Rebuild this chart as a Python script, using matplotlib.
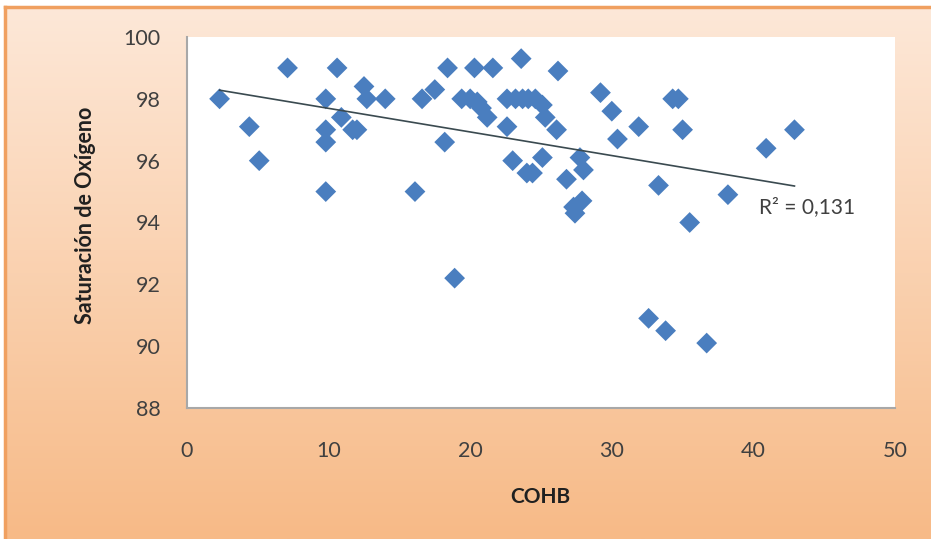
import numpy as np
import matplotlib
matplotlib.use("Agg")
import matplotlib.pyplot as plt

plt.rcParams['font.family'] = ['Lato', 'DejaVu Sans']

# Data
cohb = [2.3, 4.4, 5.1, 7.1, 9.8, 9.8, 9.8, 9.8, 10.6, 10.9, 11.7, 12.0, 12.5, 12.7,
        14.0, 16.1, 16.6, 17.5, 18.2, 18.4, 18.9, 19.4, 20.0, 20.3, 20.5, 20.8, 21.2,
        21.6, 22.6, 22.6, 23.0, 23.2, 23.6, 23.7, 24.0, 24.1, 24.4, 24.6, 25.1, 25.1,
        25.3, 26.1, 26.2, 26.8, 27.3, 27.4, 27.75, 27.9, 28.0, 29.2, 30.0, 30.4, 31.9,
        32.6, 33.3, 33.8, 34.3, 34.7, 35.0, 35.5, 36.7, 38.2, 40.9, 42.9]
sat = [98.0, 97.1, 96.0, 99.0, 98.0, 97.0, 96.6, 95.0, 99.0, 97.4, 97.0, 97.0, 98.4, 98.0,
       98.0, 95.0, 98.0, 98.3, 96.6, 99.0, 92.2, 98.0, 98.0, 99.0, 97.9, 97.7, 97.4,
       99.0, 98.0, 97.1, 96.0, 98.0, 99.3, 98.0, 95.6, 98.0, 95.6, 98.0, 97.8, 96.1,
       97.4, 97.0, 98.9, 95.4, 94.5, 94.3, 96.1, 94.7, 95.7, 98.2, 97.6, 96.7, 97.1,
       90.9, 95.2, 90.5, 98.0, 98.0, 97.0, 94.0, 90.1, 94.9, 96.4, 97.0]

trend_x = [2.3, 42.9]
trend_y = [98.28, 95.18]
r2_label = "R² = 0,131"

x_ticks = [0, 10, 20, 30, 40, 50]
y_ticks = [88, 90, 92, 94, 96, 98, 100]

W, H = 931, 539
fig = plt.figure(figsize=(W / 100, H / 100), dpi=100)
fig.patch.set_facecolor('white')

# Background gradient panel
bg = fig.add_axes([5 / W, 0, 1 - 5 / W, 1 - 7 / H], zorder=0)
top = np.array([253, 232, 216]) / 255
bot = np.array([247, 186, 135]) / 255
t = np.linspace(0, 1, 256)[:, None]
grad = top[None, :] * (1 - t) + bot[None, :] * t
bg.imshow(grad[:, None, :], aspect='auto', extent=[0, 1, 0, 1], origin='upper')
bg.set_xlim(0, 1)
bg.set_ylim(0, 1)
bg.axis('off')
bg.plot([0, 0], [0, 1], color='#f0a060', lw=2.5, transform=bg.transAxes, clip_on=False)
bg.plot([0, 1], [1, 1], color='#f0a060', lw=2.5, transform=bg.transAxes, clip_on=False)

ax = fig.add_axes([187 / W, 1 - 408 / H, (895 - 187) / W, (408 - 37) / H], zorder=2)
ax.set_facecolor('white')
ax.scatter(cohb, sat, marker='D', s=112, color='#4a7ebf', edgecolors='none', zorder=3)
ax.plot(trend_x, trend_y, color='#3a4a50', lw=1.2, zorder=4)
ax.text(40.4, 94.5, r2_label, fontsize=15, color='#404040', va='center', ha='left')

ax.set_xlim(0, 50)
ax.set_ylim(88, 100)
ax.set_xticks(x_ticks)
ax.set_yticks(y_ticks)
ax.tick_params(axis='both', length=0, labelsize=15.5, labelcolor='#404040')
ax.tick_params(axis='x', pad=24)
ax.tick_params(axis='y', pad=19)
for s in ['top', 'right']:
    ax.spines[s].set_visible(False)
for s in ['left', 'bottom']:
    ax.spines[s].set_color('#a8a8a8')
    ax.spines[s].set_linewidth(1.5)

fig.text(540 / W, 1 - 497 / H, 'COHB', fontsize=15, fontweight='bold',
         color='#202020', ha='center', va='center')
fig.text(86 / W, 1 - 215 / H, 'Saturación de Oxígeno', fontsize=15.5, fontweight='bold',
         color='#202020', ha='center', va='center', rotation=90)

fig.savefig('out.png', dpi=100)
